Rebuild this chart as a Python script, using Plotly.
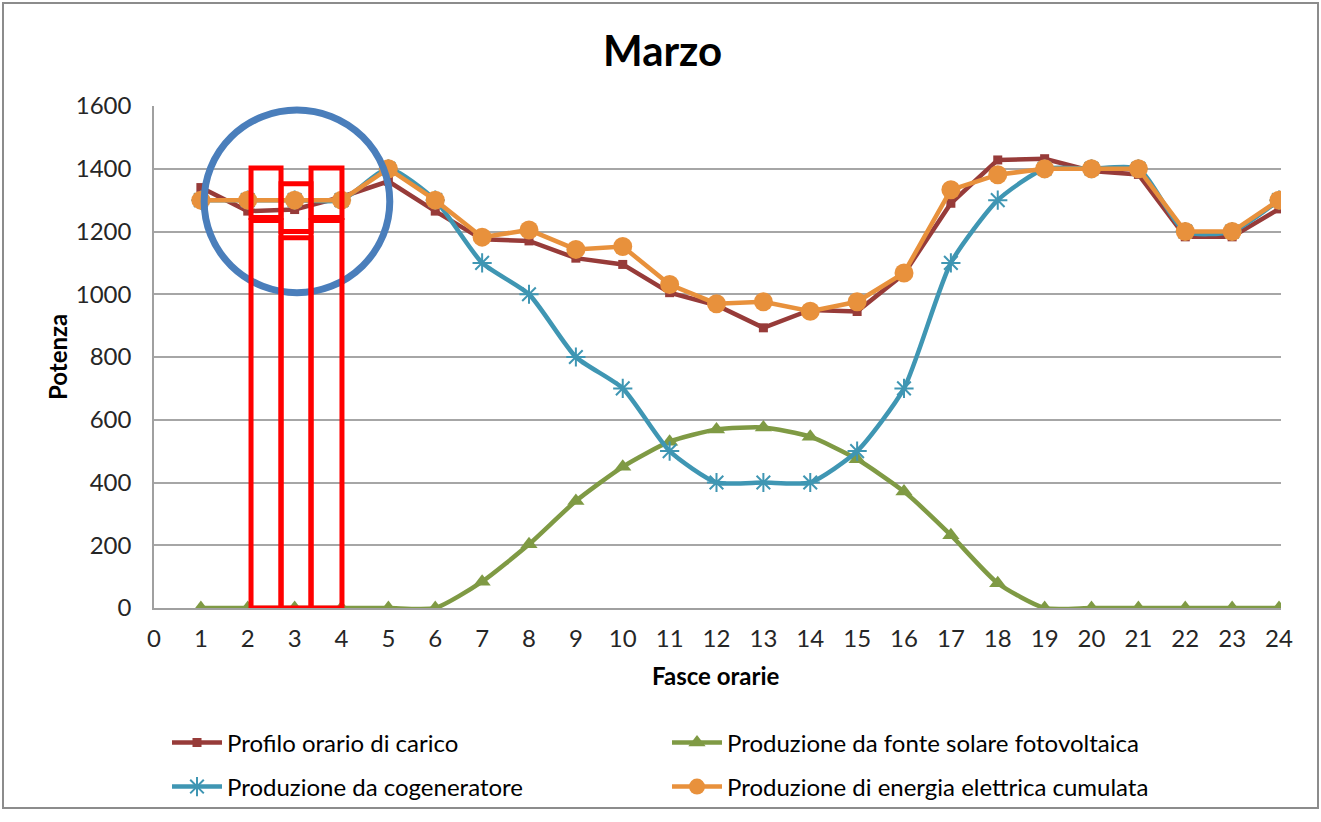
import plotly.graph_objects as go

# ---------------- data ----------------
hours = list(range(1, 25))
x_tick_vals = list(range(0, 25))
y_tick_vals = [0, 200, 400, 600, 800, 1000, 1200, 1400, 1600]

load_profile = [1340, 1265, 1270, 1310, 1360, 1265, 1175, 1170, 1115, 1095, 1005, 965,
                893, 950, 945, 1065, 1290, 1428, 1432, 1393, 1382, 1183, 1183, 1272]
solar_pv = [0, 0, 0, 0, 0, 0, 84, 203, 341, 450, 530, 569,
            575, 546, 474, 371, 232, 79, 0, 0, 0, 0, 0, 0]
cogenerator = [1300, 1300, 1300, 1300, 1400, 1300, 1100, 1000, 800, 700, 500, 400,
               400, 400, 500, 700, 1100, 1300, 1400, 1400, 1400, 1200, 1200, 1300]
cumulative = [1300, 1300, 1300, 1300, 1400, 1300, 1182, 1205, 1143, 1152, 1031, 970,
              976, 946, 976, 1068, 1333, 1381, 1400, 1400, 1400, 1200, 1200, 1300]

names = ["Profilo orario di carico",
         "Produzione da fonte solare fotovoltaica",
         "Produzione da cogeneratore",
         "Produzione di energia elettrica cumulata"]
title_text = "Marzo"
x_title = "Fasce orarie"
y_title = "Potenza"

FONT = "Lato"
C_LOAD = "#973b39"
C_SOLAR = "#7f9a44"
C_COGEN = "#3f96b3"
C_CUM = "#e8913c"

fig = go.Figure()
fig.add_trace(go.Scatter(x=hours, y=load_profile, name=names[0], mode="lines+markers",
                         line=dict(color=C_LOAD, width=4.5),
                         marker=dict(symbol="square", size=9, color=C_LOAD),
                         legend="legend"))
fig.add_trace(go.Scatter(x=hours, y=solar_pv, name=names[1], mode="lines+markers",
                         line=dict(color=C_SOLAR, width=4.5, shape="spline", smoothing=0.6),
                         marker=dict(symbol="triangle-up", size=15, color=C_SOLAR),
                         legend="legend"))
fig.add_trace(go.Scatter(x=hours, y=cogenerator, name=names[2], mode="lines+markers",
                         line=dict(color=C_COGEN, width=4.5, shape="spline", smoothing=0.6),
                         marker=dict(symbol="asterisk-open", size=16, color=C_COGEN,
                                     line=dict(color=C_COGEN, width=2)),
                         legend="legend2"))
fig.add_trace(go.Scatter(x=hours, y=cumulative, name=names[3], mode="lines+markers",
                         line=dict(color=C_CUM, width=4.5),
                         marker=dict(symbol="circle", size=19, color=C_CUM),
                         legend="legend2"))

W, H = 1321, 822
L, R, T, B = 154, 1281, 106, 608  # plot area in pixels


def px(xp):
    return (xp - L) / (R - L)


def py(yp):
    return (B - yp) / (B - T)


shapes = []
# outer frame
shapes.append(dict(type="rect", xref="paper", yref="paper",
                   x0=px(3), x1=px(1318), y0=py(808), y1=py(3),
                   line=dict(color="#8c8c8c", width=2), layer="below"))
# highlight circle
shapes.append(dict(type="circle", xref="x", yref="y", x0=1.07, x1=5.03, y0=1005, y1=1587,
                   line=dict(color="#4a7ebb", width=7), layer="above"))
# red boxes (top part, lower tall part)
red_boxes = [
    (2.07, 2.71, 1402, 1245, 1235),
    (2.71, 3.35, 1352, 1200, 1180),
    (3.35, 4.01, 1402, 1245, 1235),
]
for xa, xb, ytop, ymid1, ymid2 in red_boxes:
    shapes.append(dict(type="rect", xref="x", yref="y", x0=xa, x1=xb, y0=ymid1, y1=ytop,
                       line=dict(color="#ff0000", width=5), layer="above"))
    shapes.append(dict(type="rect", xref="x", yref="y", x0=xa, x1=xb, y0=0, y1=ymid2,
                       line=dict(color="#ff0000", width=5), layer="above"))

annotations = [
    dict(text=f"<b>{title_text}</b>", xref="paper", yref="paper", x=px(662), y=py(50),
         showarrow=False, font=dict(family=FONT, size=42, color="#000000"),
         xanchor="center", yanchor="middle"),
    dict(text=f"<b>{x_title}</b>", xref="paper", yref="paper", x=px(716), y=py(676),
         showarrow=False, font=dict(family=FONT, size=24, color="#000000"),
         xanchor="center", yanchor="middle"),
    dict(text=f"<b>{y_title}</b>", xref="paper", yref="paper", x=px(57), y=py(357),
         showarrow=False, font=dict(family=FONT, size=24, color="#000000"),
         xanchor="center", yanchor="middle", textangle=-90),
]

fig.update_layout(
    width=W, height=H,
    margin=dict(l=L, r=W - R, t=T, b=H - B, pad=0),
    paper_bgcolor="white", plot_bgcolor="white",
    font=dict(family=FONT, size=24, color="#262626"),
    shapes=shapes, annotations=annotations,
    showlegend=True,
    legend=dict(orientation="h", x=px(167), y=py(743), xanchor="left", yanchor="middle",
                entrywidth=435, entrywidthmode="pixels", itemwidth=50,
                font=dict(family=FONT, size=24, color="#000000"), bgcolor="rgba(0,0,0,0)"),
    legend2=dict(orientation="h", x=px(167), y=py(787), xanchor="left", yanchor="middle",
                 entrywidth=435, entrywidthmode="pixels", itemwidth=50,
                 font=dict(family=FONT, size=24, color="#000000"), bgcolor="rgba(0,0,0,0)"),
)
fig.update_xaxes(range=[0, 24 * (R - L) / (1279 - L)], tickvals=x_tick_vals,
                 ticktext=[str(v) for v in x_tick_vals],
                 showgrid=False, zeroline=False, showline=True, linecolor="#a0a0a0",
                 linewidth=1.5, ticks="", ticklabelstandoff=8,
                 tickfont=dict(family=FONT, size=24, color="#262626"))
fig.update_yaxes(range=[0, 1600], tickvals=y_tick_vals,
                 showgrid=True, gridcolor="#a6a6a6", gridwidth=1.5,
                 zeroline=False, showline=True, linecolor="#a0a0a0", linewidth=1.5,
                 ticks="", ticklabelstandoff=16,
                 tickfont=dict(family=FONT, size=24, color="#262626"))

fig.write_html("out.html", config={"displayModeBar": False},
               post_script="document.body.style.margin='0px';")
